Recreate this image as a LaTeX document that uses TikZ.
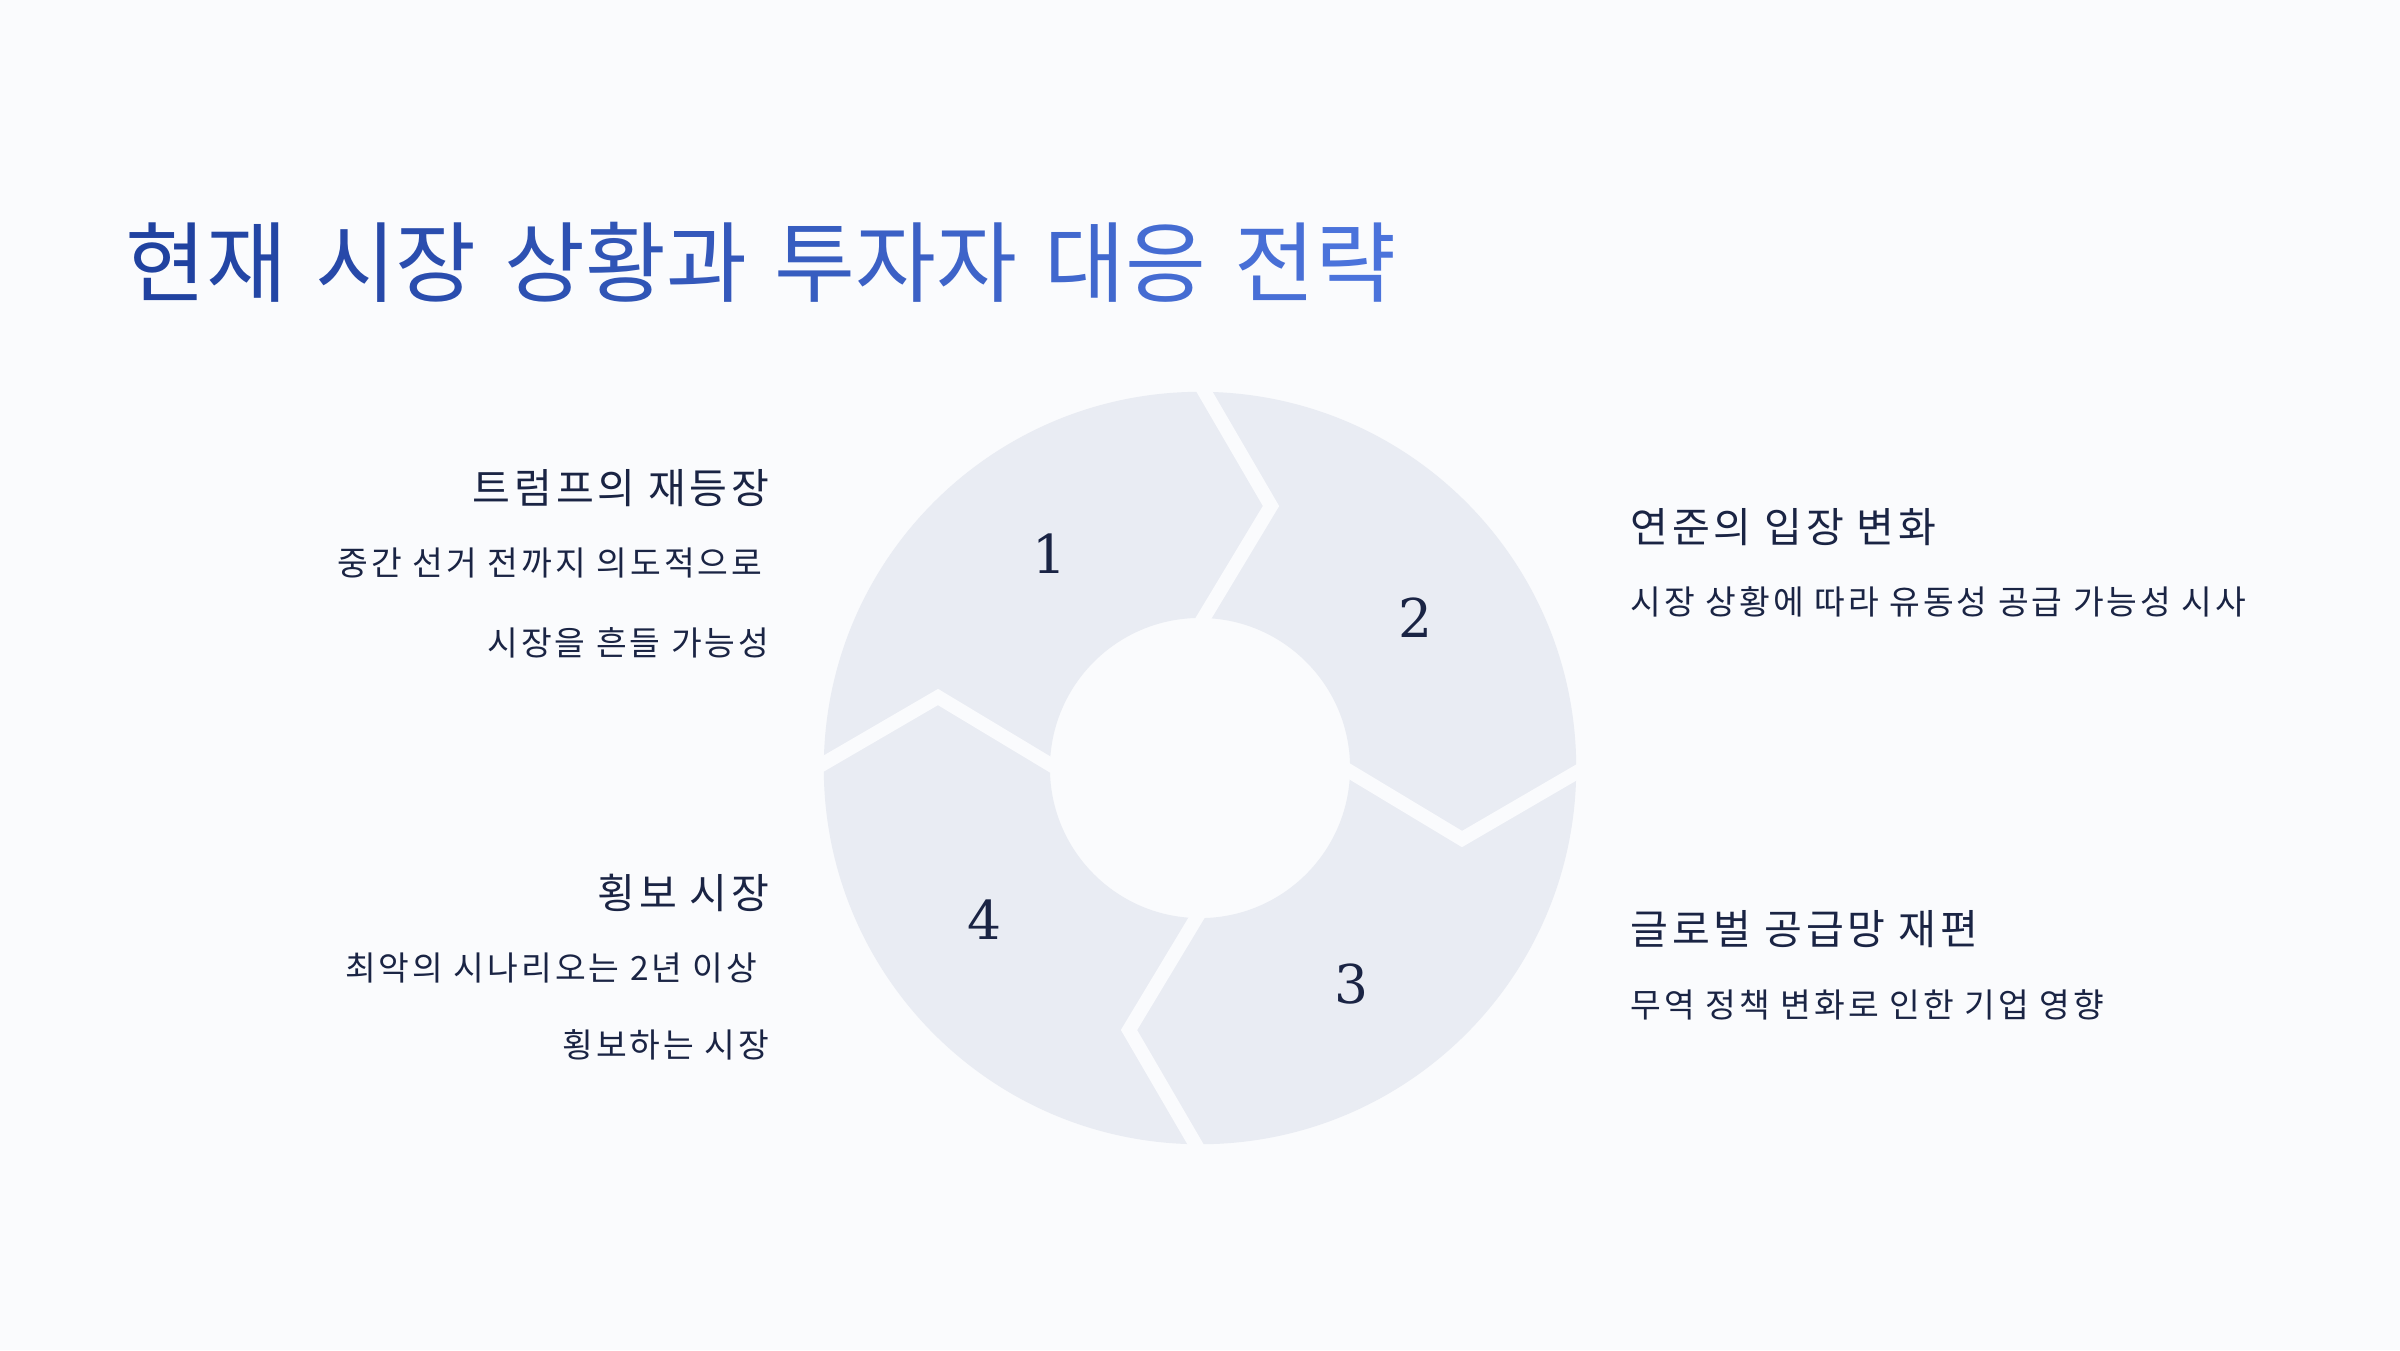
\documentclass[tikz,border=0pt]{standalone}
\usepackage{fontspec}
\setmainfont[LetterSpace=9]{Noto Sans CJK KR}
\newfontfamily\numfont{DejaVu Serif}
\definecolor{bgc}{HTML}{FAFBFD}
\definecolor{ringc}{HTML}{E9ECF3}
\definecolor{txtc}{HTML}{1A2444}
\definecolor{tA}{HTML}{2042A0}
\definecolor{tB}{HTML}{4B73DB}
\newcommand\gc[2]{\textcolor{tB!#1!tA}{#2}}
\tikzset{
  gapline/.style={draw=bgc, line width=0.14cm, line join=miter},
  titletext/.style={anchor=base west, inner sep=0, font=\fontsize{25pt}{30pt}\selectfont},
  headl/.style={anchor=base east, inner sep=0, text=txtc, font=\fontsize{11.7pt}{14pt}\selectfont},
  headr/.style={anchor=base west, inner sep=0, text=txtc, font=\fontsize{11.7pt}{14pt}\selectfont},
  bodyl/.style={anchor=base east, inner sep=0, text=txtc, font=\fontsize{9.5pt}{12pt}\selectfont},
  bodyr/.style={anchor=base west, inner sep=0, text=txtc, font=\fontsize{9.5pt}{12pt}\selectfont},
  numtext/.style={anchor=center, inner sep=0, text=txtc, font=\numfont\fontsize{15.2pt}{18pt}\selectfont},
}
\begin{document}
\begin{tikzpicture}[x=0.01cm,y=-0.01cm]
\fill[bgc] (0,0) rectangle (2400,1350);
\useasboundingbox (0,0) rectangle (2400,1350);
% title
\node[titletext] (title) at (125,295) {\gc{0}{현}\gc{8}{재} \gc{15}{시}\gc{23}{장} \gc{31}{상}\gc{38}{황}\gc{46}{과} \gc{54}{투}\gc{62}{자}\gc{69}{자} \gc{77}{대}\gc{85}{응} \gc{92}{전}\gc{100}{략}};
% ring
\coordinate (c) at (1200,768);
\fill[ringc,even odd rule] (c) circle[radius=3.76cm] (c) circle[radius=1.5cm];
\draw[gapline] (1200,384) -- (1271,506) -- (1200,624);
\draw[gapline] (1584,768) -- (1462,839) -- (1344,768);
\draw[gapline] (1200,1152) -- (1129,1030) -- (1200,912);
\draw[gapline] (816,768) -- (938,697) -- (1056,768);
% numbers
\node[numtext] (n1) at (1049,554) {1};
\node[numtext] (n2) at (1415,618) {2};
\node[numtext] (n3) at (1351,984) {3};
\node[numtext] (n4) at (984,920) {4};
% left top
\node[headl] (h1) at (770,503) {트럼프의 재등장};
\node[bodyl] (b1a) at (763,575) {중간 선거 전까지 의도적으로};
\node[bodyl] (b1b) at (770,655.5) {시장을 흔들 가능성};
% right top
\node[headr] (h2) at (1630,542.5) {연준의 입장 변화};
\node[bodyr] (b2) at (1630,614.5) {시장 상황에 따라 유동성 공급 가능성 시사};
% right bottom
\node[headr] (h3) at (1630,944.5) {글로벌 공급망 재편};
\node[bodyr] (b3) at (1630,1017.5) {무역 정책 변화로 인한 기업 영향};
% left bottom
\node[headl] (h4) at (770,908) {횡보 시장};
\node[bodyl] (b4a) at (758,980) {최악의 시나리오는 2년 이상};
\node[bodyl] (b4b) at (770,1057) {횡보하는 시장};
\end{tikzpicture}
\end{document}
